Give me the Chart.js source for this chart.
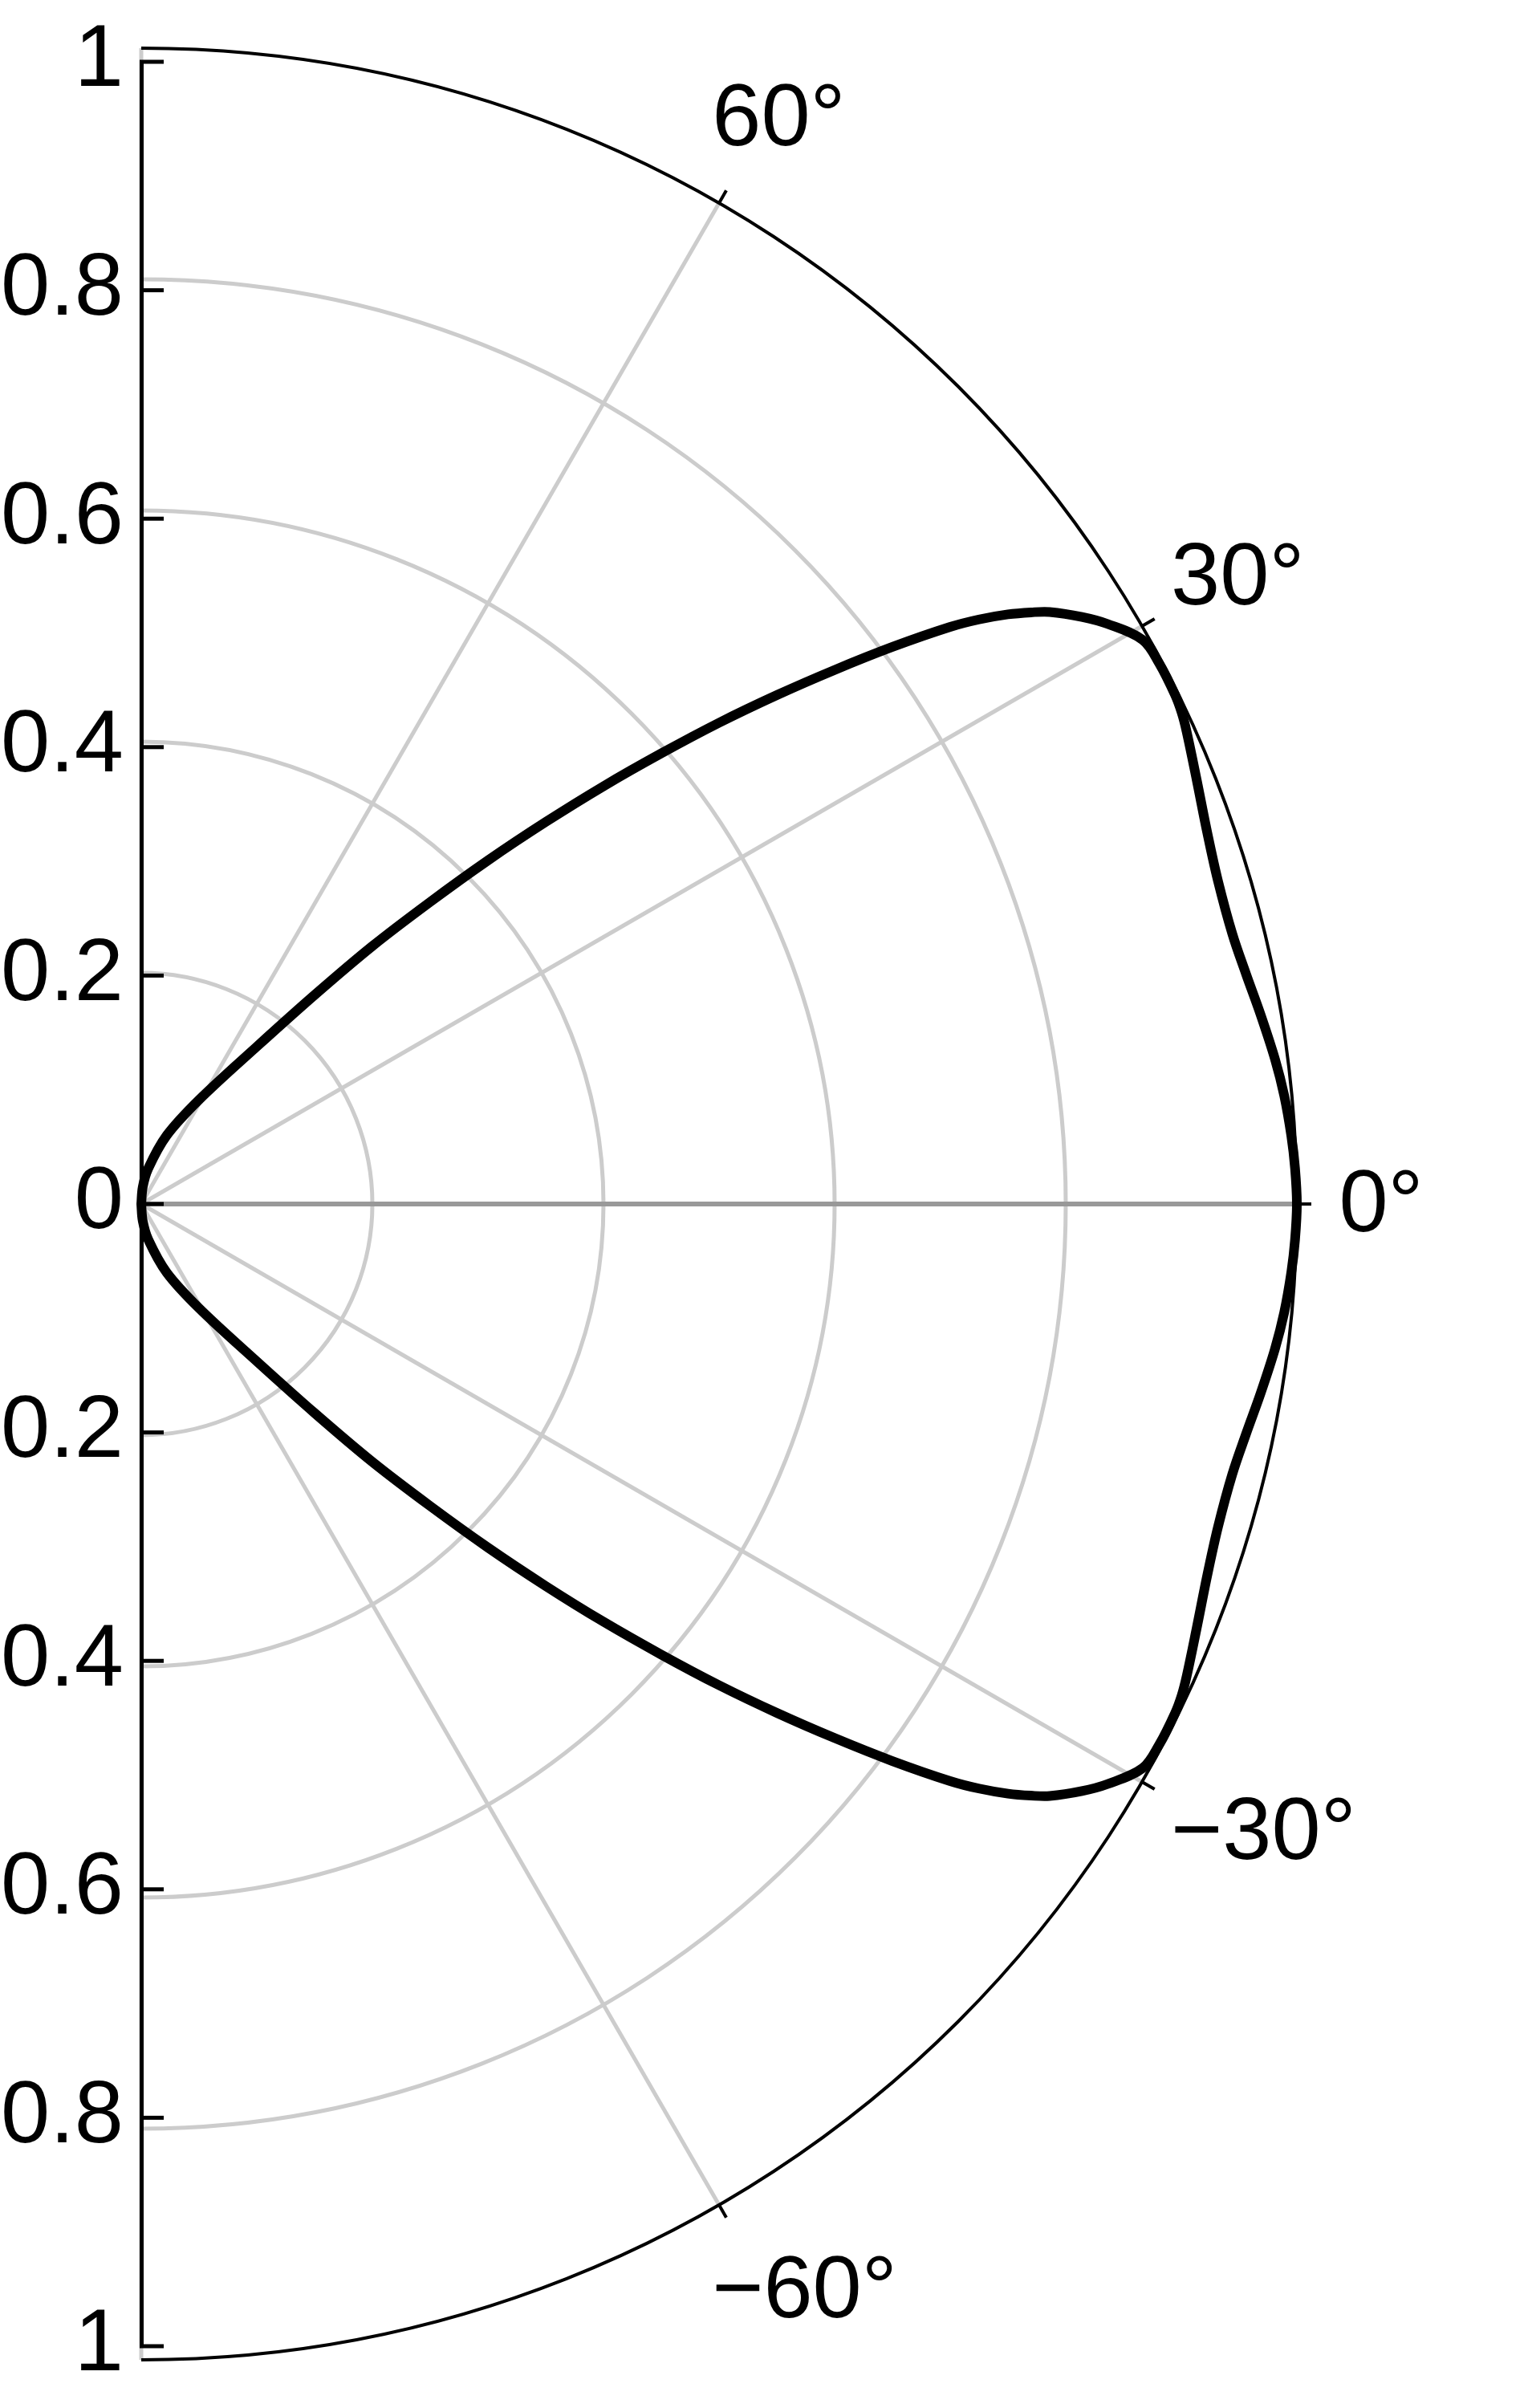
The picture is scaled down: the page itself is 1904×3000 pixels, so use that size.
<!DOCTYPE html>
<html>
<head>
<meta charset="utf-8">
<script src="https://cdn.jsdelivr.net/npm/chart.js@4.4.1/dist/chart.umd.min.js"></script>
<style>
  html, body { margin: 0; padding: 0; background: #fff; }
  #wrap { width: 1904px; height: 3000px; }
</style>
</head>
<body>
<div id="wrap"><canvas id="polar" width="1904" height="3000"></canvas></div>
<script>
// pattern: angle in degrees, radius 0..1
var patternAngles = [
  90, 85.01, 79.05, 69.86, 61.26, 54.03, 50.66, 48.47, 46.61, 45.08, 43.7, 42.44, 41.24,
  40.12, 39.01, 37.93, 36.88, 35.82, 35.22, 34.54, 33.93, 33.4, 32.27, 31.28, 29.67,
  28.25, 26.48, 25.53, 24.58, 22.12, 19.43, 16.88, 14.07, 11.88, 9.71, 7.37, 5.48, 3.42, 1.79, 0,
  -1.79, -3.42, -5.48, -7.37, -9.71, -11.88, -14.07, -16.88, -19.43, -22.12, -24.58, -25.53,
  -26.48, -28.25, -29.67, -31.28, -32.27, -33.4, -33.93, -34.54, -35.22, -35.82, -36.88,
  -37.93, -39.01, -40.12, -41.24, -42.44, -43.7, -45.08, -46.61, -48.47, -50.66, -54.03,
  -61.26, -69.86, -79.05, -85.01, -90
];
var patternRadii = [
  0, 0.01496, 0.03158, 0.0639, 0.104, 0.1703, 0.2366, 0.3016, 0.3639, 0.4248, 0.4841, 0.542, 0.5985,
  0.6538, 0.7078, 0.7606, 0.8127, 0.8633, 0.8874, 0.9105, 0.928, 0.9416, 0.9627, 0.9782, 0.9975,
  1.0, 0.9995, 0.9978, 0.9947, 0.9859, 0.9781, 0.9737, 0.9733, 0.977, 0.9827, 0.9892, 0.9936, 0.997, 0.9989, 1.0,
  0.9989, 0.997, 0.9936, 0.9892, 0.9827, 0.977, 0.9733, 0.9737, 0.9781, 0.9859, 0.9947, 0.9978,
  0.9995, 1.0, 0.9975, 0.9782, 0.9627, 0.9416, 0.928, 0.9105, 0.8874, 0.8633, 0.8127,
  0.7606, 0.7078, 0.6538, 0.5985, 0.542, 0.4841, 0.4248, 0.3639, 0.3016, 0.2366, 0.1703,
  0.104, 0.0639, 0.03158, 0.01496, 0
];

var ringValues = [0.2, 0.4, 0.6, 0.8];
var spokeAngles = [90, 60, 30, -30, -60, -90];
var angleTicks = [60, 30, 0, -30, -60];
var angleLabels = ['60°', '30°', '0°', '−30°', '−60°'];

var FONT = '"Liberation Sans", Arial, Helvetica, sans-serif';

function toRad(d) { return d * Math.PI / 180; }

var points = patternAngles.map(function(a, i) {
  var r = patternRadii[i];
  return { x: r * Math.cos(toRad(a)), y: r * Math.sin(toRad(a)) };
});

// polar grid, axis ticks and angle labels, drawn through the chart scales
var polarGrid = {
  id: 'polarGrid',
  beforeDraw: function(chart) {
    var xs = chart.scales.x, ys = chart.scales.y, ctx = chart.ctx;
    var cx = xs.getPixelForValue(0), cy = ys.getPixelForValue(0);
    var unit = xs.getPixelForValue(1) - cx;
    ctx.save();
    ctx.lineCap = 'butt';

    ctx.strokeStyle = '#cccccc';
    ctx.lineWidth = 5;
    ringValues.forEach(function(v) {
      ctx.beginPath();
      ctx.arc(cx, cy, v * unit, -Math.PI / 2, Math.PI / 2);
      ctx.stroke();
    });
    spokeAngles.forEach(function(a) {
      ctx.beginPath();
      ctx.moveTo(cx, cy);
      ctx.lineTo(cx + unit * Math.cos(toRad(a)), cy - unit * Math.sin(toRad(a)));
      ctx.stroke();
    });
    ctx.strokeStyle = '#999999';
    ctx.lineWidth = 6;
    ctx.beginPath();
    ctx.moveTo(cx, cy);
    ctx.lineTo(cx + unit, cy);
    ctx.stroke();

    // outer circle
    ctx.strokeStyle = '#000';
    ctx.lineWidth = 4;
    ctx.beginPath();
    ctx.arc(cx, cy, unit, -Math.PI / 2, Math.PI / 2);
    ctx.stroke();

    // angle ticks pointing outward
    angleTicks.forEach(function(a) {
      var c = Math.cos(toRad(a)), s = Math.sin(toRad(a));
      ctx.beginPath();
      ctx.moveTo(cx + unit * c, cy - unit * s);
      ctx.lineTo(cx + (unit + 18) * c, cy - (unit + 18) * s);
      ctx.stroke();
    });

    // angle labels, left aligned just past the rim
    ctx.fillStyle = '#000';
    ctx.font = '110px ' + FONT;
    ctx.textAlign = 'left';
    ctx.textBaseline = 'middle';
    angleTicks.forEach(function(a, i) {
      var rho = unit * 1.085;
      var px = cx + rho * Math.cos(toRad(a));
      var py = cy - rho * Math.sin(toRad(a));
      ctx.fillText(angleLabels[i], px - 70, py + 4);
    });
    ctx.restore();
  },
  afterDraw: function(chart) {
    // inward tick marks on the radius axis
    var ys = chart.scales.y, ctx = chart.ctx;
    var left = chart.chartArea.left;
    ctx.save();
    ctx.strokeStyle = '#000';
    ctx.lineWidth = 5;
    ys.ticks.forEach(function(t) {
      var y = ys.getPixelForValue(t.value);
      ctx.beginPath();
      ctx.moveTo(left - 2, y);
      ctx.lineTo(left + 28, y);
      ctx.stroke();
    });
    ctx.restore();
  }
};

new Chart(document.getElementById('polar'), {
  type: 'scatter',
  data: {
    datasets: [{
      data: points,
      showLine: true,
      borderColor: '#000',
      borderWidth: 12,
      borderJoinStyle: 'round',
      borderCapStyle: 'round',
      pointRadius: 0,
      pointHoverRadius: 0,
      tension: 0.35,
      capBezierPoints: false,
      fill: false,
      clip: false
    }]
  },
  options: {
    responsive: false,
    animation: false,
    events: [],
    elements: { line: { capBezierPoints: false } },
    layout: { padding: { top: 60, bottom: 60, left: 0, right: 288 } },
    plugins: { legend: { display: false }, tooltip: { enabled: false } },
    scales: {
      x: { type: 'linear', min: 0, max: 1, display: false },
      y: {
        type: 'linear',
        position: 'left',
        min: -1,
        max: 1,
        afterFit: function(scale) { scale.width = 176; },
        grid: { drawOnChartArea: false, drawTicks: false },
        border: { display: true, color: '#000', width: 5 },
        ticks: {
          stepSize: 0.2,
          autoSkip: false,
          padding: 22,
          color: '#000',
          font: { family: FONT, size: 110, lineHeight: 1 },
          callback: function(v) { return String(Math.abs(Math.round(v * 10) / 10)); }
        }
      }
    }
  },
  plugins: [polarGrid]
});
</script>
</body>
</html>
